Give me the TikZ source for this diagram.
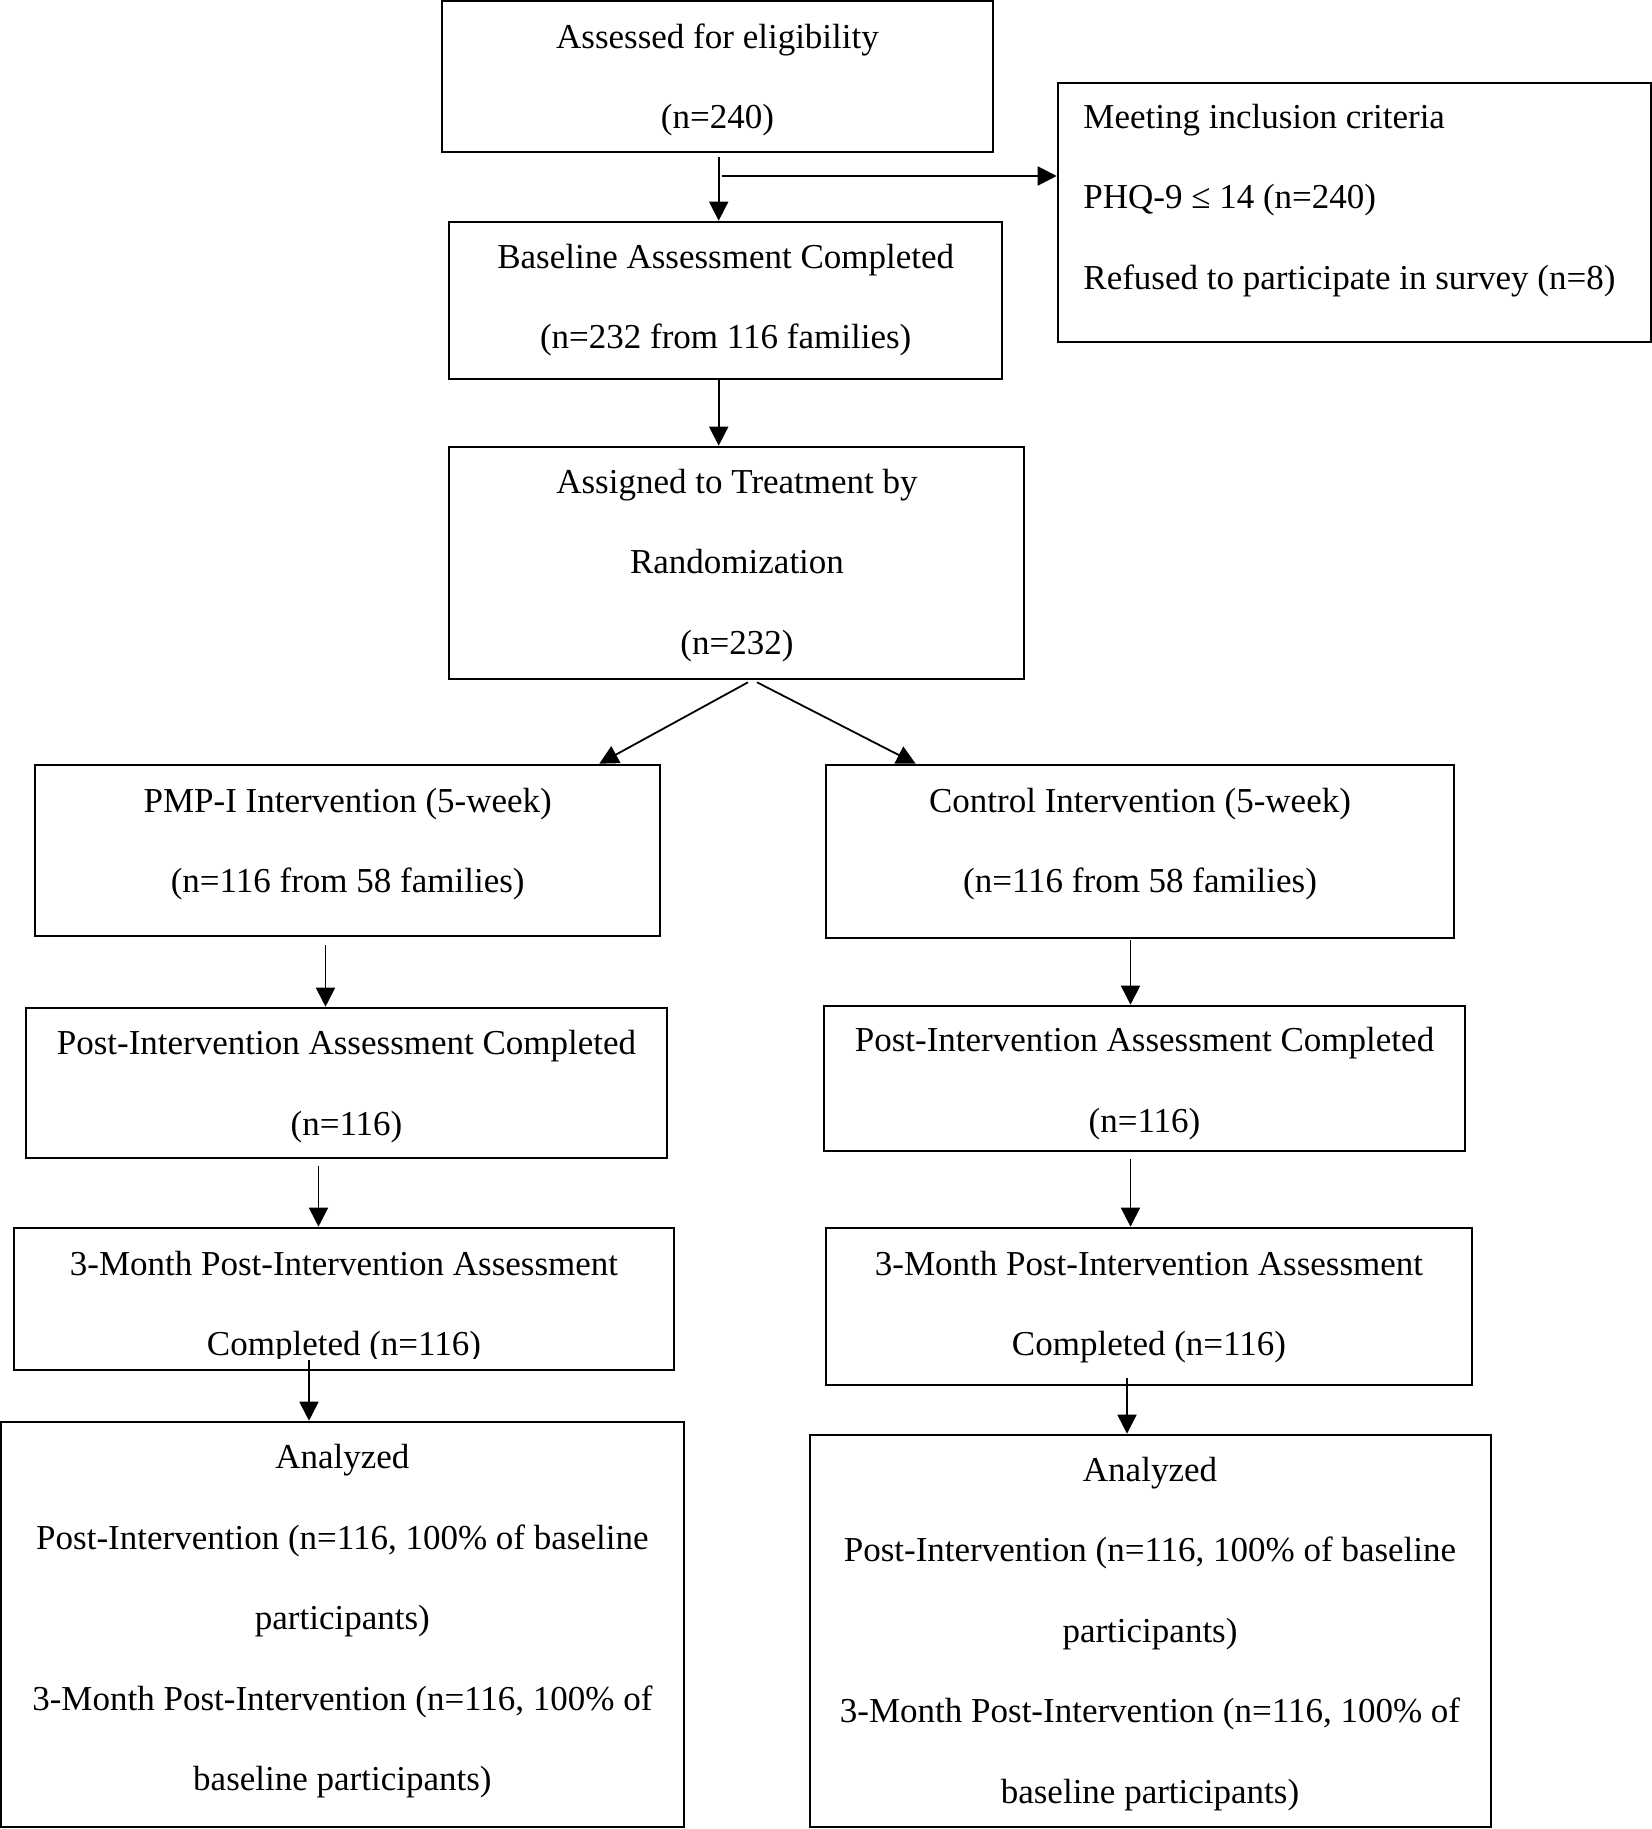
\documentclass[tikz,border=0pt]{standalone}
\usepackage{fontspec}
\setmainfont{Liberation Serif}
\usetikzlibrary{arrows.meta,fit,calc}
\begin{document}
\begin{tikzpicture}[x=0.5pt,y=-0.5pt,
  box/.style={draw=black,line width=1.3pt,inner sep=0pt,fill=none},
  txt/.style={inner sep=0pt,align=center,yshift=-1.75pt,font=\fontsize{17.5pt}{40.25pt}\selectfont},
  txtl/.style={inner sep=0pt,align=left,anchor=west,yshift=-1.75pt,font=\fontsize{17.5pt}{40.25pt}\selectfont},
  arr/.style={line width=0.9pt,-{Triangle[length=9.5pt,width=9.5pt]}}]
\path[use as bounding box,fill=white] (0,0) rectangle (1652,1829);
% boxes
\node[box,fit={(442,1) (993,152)}] (ae) {};
\node[box,fit={(1058,83) (1651,342)}] (mc) {};
\node[box,fit={(449,222) (1002,379)}] (bl) {};
\node[box,fit={(449,447) (1024,679)}] (as) {};
\node[box,fit={(35,765) (660,936)}] (pmp) {};
\node[box,fit={(826,765) (1454,938)}] (ct) {};
\node[box,fit={(26,1008) (667,1158)}] (pl) {};
\node[box,fit={(824,1006) (1465,1151)}] (pr) {};
\node[box,fit={(14,1228) (674,1370)}] (ml) {};
\node[box,fit={(826,1228) (1472,1385)}] (mr) {};
\node[box,fit={(1,1422) (684,1827)}] (al) {};
\node[box,fit={(810,1435) (1491,1827)}] (ar) {};
% texts
\node[txt] (tae) at (717.5,76.5) {Assessed for eligibility\\(n=240)};
\node[txtl] (tmc) at (1083,197) {Meeting inclusion criteria\\PHQ-9 ≤ 14 (n=240)\\Refused to participate in survey (n=8)};
\node[txt] (tbl) at (725.7,296.5) {Baseline Assessment Completed\\(n=232 from 116 families)};
\node[txt] (tas) at (737,562) {Assigned to Treatment by\\Randomization\\(n=232)};
\node[txt] (tpmp) at (347.7,840.5) {PMP-I Intervention (5-week)\\(n=116 from 58 families)};
\node[txt] (tct) at (1140,840.5) {Control Intervention (5-week)\\(n=116 from 58 families)};
\node[txt] (tpl) at (346.5,1083) {Post-Intervention Assessment Completed\\(n=116)};
\node[txt] (tpr) at (1144.5,1080) {Post-Intervention Assessment Completed\\(n=116)};
\begin{scope}
\clip (14,1228) rectangle (674,1358);
\node[txt] (tml) at (344,1303.7) {3-Month Post-Intervention Assessment\\Completed (n=116)};
\end{scope}
\node[txt] (tmr) at (1149,1303.7) {3-Month Post-Intervention Assessment\\Completed (n=116)};
\node[txt] (tal) at (342.4,1618) {Analyzed\\Post-Intervention (n=116, 100\% of baseline\\participants)\\3-Month Post-Intervention (n=116, 100\% of\\baseline participants)};
\node[txt] (tar) at (1150,1630.5) {Analyzed\\Post-Intervention (n=116, 100\% of baseline\\participants)\\3-Month Post-Intervention (n=116, 100\% of\\baseline participants)};
% connectors
\coordinate (a1) at (718.7,157);
\draw[arr] (a1) -- (a1 |- bl.north);
\coordinate (h0) at (722,176);
\draw[arr] (h0) -- (h0 -| mc.west);
\coordinate (a2) at (a1 |- bl.south);
\draw[arr] (a2) -- (a2 |- as.north);
\coordinate (a3) at ($(as.south)+(11.5,2)$);
\draw[arr] (a3) -- ($(pmp.north east)+(-62,0)$);
\coordinate (a4) at ($(as.south)+(20.5,2)$);
\draw[arr] (a4) -- ($(ct.north west)+(91,0)$);
\coordinate (a5) at (325.5,945);
\draw[arr] (a5) -- (a5 |- pl.north);
\coordinate (a6) at (1130.5,940);
\draw[arr] (a6) -- (a6 |- pr.north);
\coordinate (a7) at (318.5,1166);
\draw[arr] (a7) -- (a7 |- ml.north);
\coordinate (a8) at (1130.5,1159);
\draw[arr] (a8) -- (a8 |- mr.north);
\coordinate (a9) at (309,1360);
\draw[arr] (a9) -- (a9 |- al.north);
\coordinate (a10) at (1127,1378);
\draw[arr] (a10) -- (a10 |- ar.north);
\end{tikzpicture}
\end{document}
